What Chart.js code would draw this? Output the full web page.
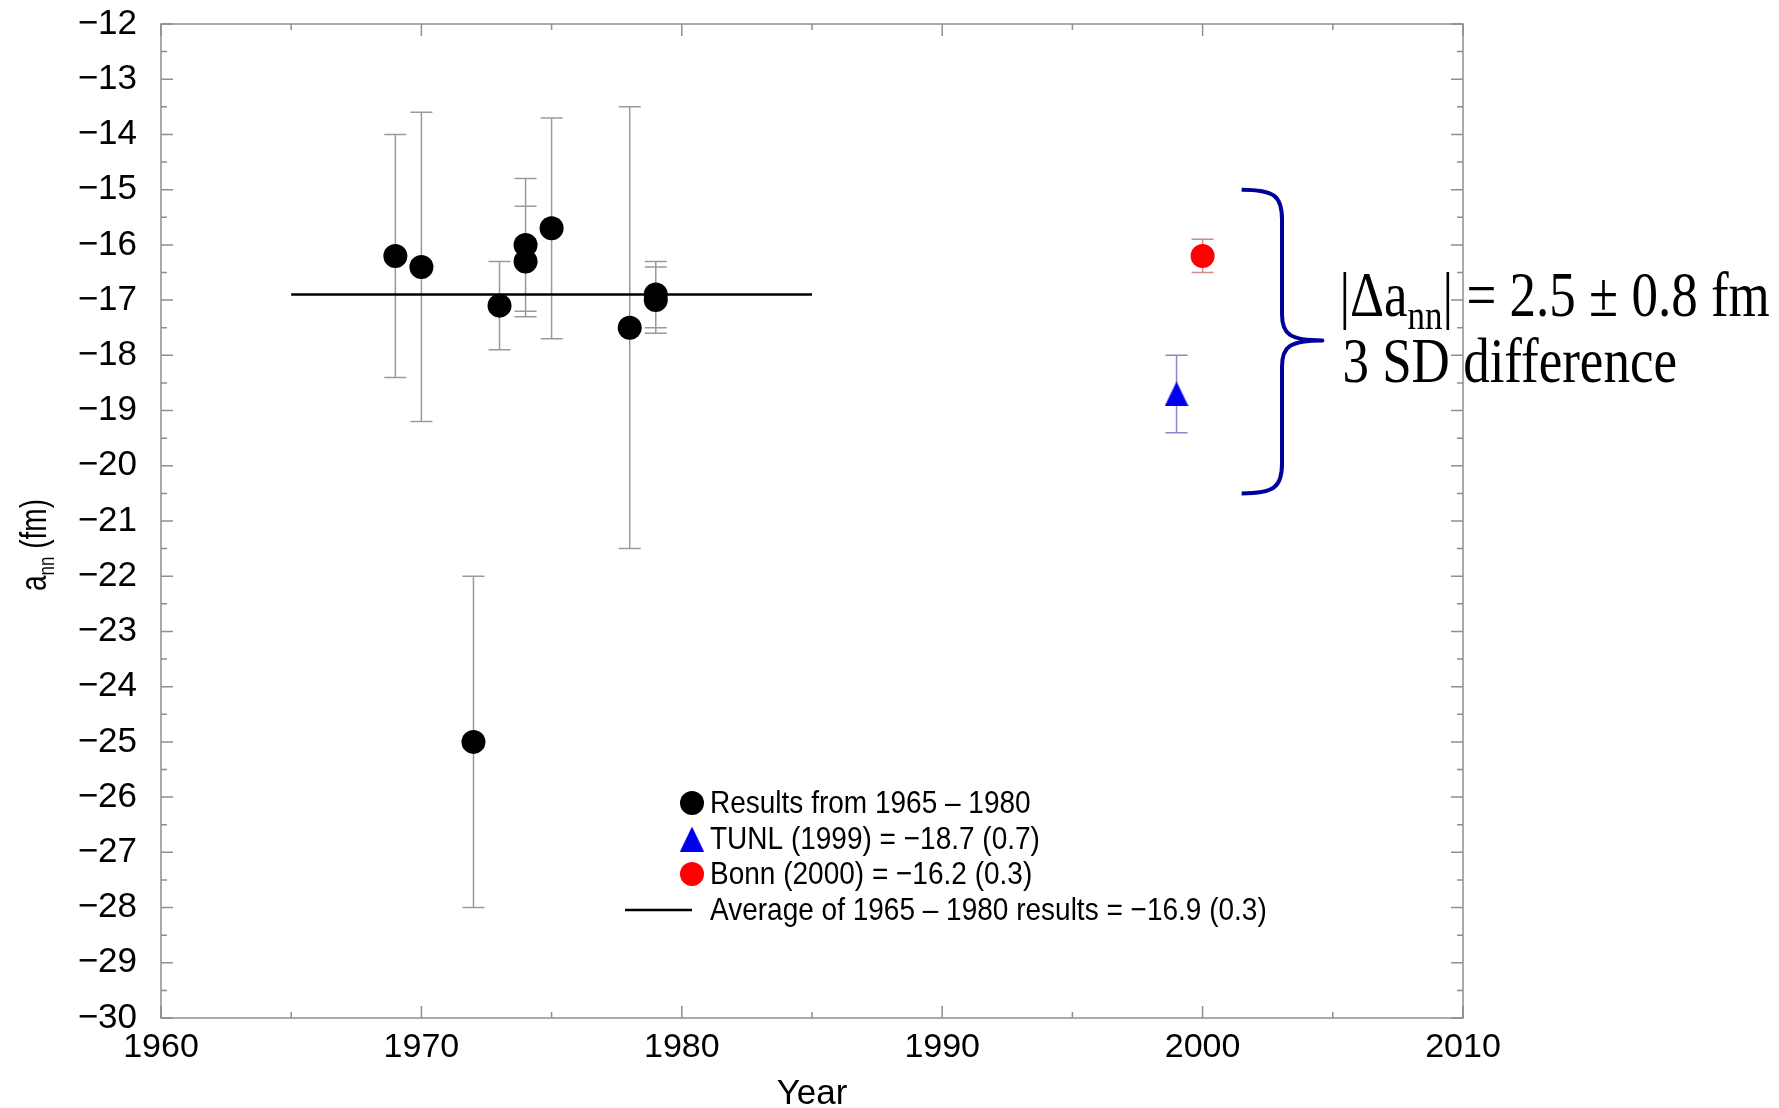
<!DOCTYPE html>
<html>
<head>
<meta charset="utf-8">
<script src="https://cdn.jsdelivr.net/npm/chart.js@4.4.1/dist/chart.umd.min.js"></script>
<style>
html,body{margin:0;padding:0;background:#fff;}
#wrap{width:1779px;height:1108px;position:relative;}
</style>
</head>
<body>
<div id="wrap"><canvas id="c" width="1779" height="1108"></canvas></div>
<script>
// ---- data ----
const oldYears  = [1969, 1970, 1972, 1973, 1974, 1974, 1975, 1978, 1979, 1979];
const oldValues = [-16.2, -16.4, -25.0, -17.1, -16.0, -16.3, -15.7, -17.5, -16.9, -17.0];
const oldErrors = [2.2, 2.8, 3.0, 0.8, 1.2, 1.0, 2.0, 4.0, 0.6, 0.6];
const tunlYears  = [1999];
const tunlValues = [-18.7];
const tunlErrors = [0.7];
const bonnYears  = [2000];
const bonnValues = [-16.2];
const bonnErrors = [0.3];
const avgYears  = [1965, 1985];
const avgValues = [-16.9, -16.9];
const legendLabels = [
  'Results from 1965 \u2013 1980',
  'TUNL (1999) = \u221218.7 (0.7)',
  'Bonn (2000) = \u221216.2 (0.3)',
  'Average of 1965 \u2013 1980 results = \u221216.9 (0.3)'
];
const xRange = [1960, 2010];
const yRange = [-30, -12];
const xTitle = 'Year';
const yTitleParts = ['a', 'nn', ' (fm)'];
// brace annotation, in data units
const braceYears  = [2001.5, 2003.05, 2004.6];
const braceValues = [-15.0, -17.73, -20.5];
const noteLine1 = ['|\u0394a', 'nn', '| = 2.5 \u00b1 0.8 fm'];
const noteLine2 = '3 SD difference';

// ---- fonts: prefer a narrow Helvetica-like face if installed ----
const probe = document.createElement('canvas').getContext('2d');
probe.font = '40px monospace';
const wMono = probe.measureText('Results 1960').width;
probe.font = '40px "Liberation Sans Narrow", monospace';
const wNarrow = probe.measureText('Results 1960').width;
const NARROW = Math.abs(wMono - wNarrow) > 1;
const SANS = NARROW ? "'Liberation Sans Narrow', 'Liberation Sans', Arial, sans-serif"
                    : "'Liberation Sans', Arial, Helvetica, sans-serif";
const SERIF = "'Liberation Serif', 'Times New Roman', serif";
const TICK_SIZE = NARROW ? 40 : 34;
const YTICK_SIZE = NARROW ? 41 : 35;
const TITLE_SIZE = NARROW ? 41 : 35;
const LEGEND_SIZE = NARROW ? 34 : 28;
const YT_BIG = NARROW ? 34 : 28, YT_SMALL = NARROW ? 21 : 17;
const TEXT_STRETCH = NARROW ? 1.0 : 1.15;
const YT_STRETCH = NARROW ? 1.2 : 1.3;

const toXY = (xs, ys) => xs.map((v, i) => ({x: v, y: ys[i]}));

// triangle marker (slightly taller than wide, as in the original)
function makeTriangle(w, h, color) {
  const c = document.createElement('canvas');
  c.width = w; c.height = h;
  const g = c.getContext('2d');
  g.fillStyle = color;
  g.beginPath();
  g.moveTo(w / 2, 0); g.lineTo(w, h); g.lineTo(0, h);
  g.closePath(); g.fill();
  return c;
}
const triImg = makeTriangle(24, 25, '#0000ee');

const decorPlugin = {
  id: 'decor',
  beforeDatasetsDraw(chart) {
    const {ctx, chartArea: a, scales: {x, y}} = chart;
    ctx.save();
    ctx.strokeStyle = '#8f8f8f';
    ctx.lineWidth = 1.5;
    ctx.strokeRect(a.left, a.top, a.right - a.left, a.bottom - a.top);
    ctx.beginPath();
    for (let v = yRange[0]; v <= yRange[1] + 1e-9; v += 0.5) {
      const py = y.getPixelForValue(v);
      const len = Math.abs(v - Math.round(v)) < 1e-6 ? 12 : 6;
      ctx.moveTo(a.left, py); ctx.lineTo(a.left + len, py);
      ctx.moveTo(a.right, py); ctx.lineTo(a.right - len, py);
    }
    for (let v = xRange[0]; v <= xRange[1] + 1e-9; v += 5) {
      const px = x.getPixelForValue(v);
      const len = v % 10 === 0 ? 12 : 6;
      ctx.moveTo(px, a.bottom); ctx.lineTo(px, a.bottom - len);
      ctx.moveTo(px, a.top); ctx.lineTo(px, a.top + len);
    }
    ctx.stroke();
    ctx.restore();

    const drawErr = (xs, vs, es, color) => {
      ctx.save();
      ctx.strokeStyle = color;
      ctx.lineWidth = 1.5;
      ctx.beginPath();
      xs.forEach((yr, i) => {
        const px = x.getPixelForValue(yr);
        const top = y.getPixelForValue(vs[i] + es[i]);
        const bot = y.getPixelForValue(vs[i] - es[i]);
        ctx.moveTo(px, top); ctx.lineTo(px, bot);
        ctx.moveTo(px - 11, top); ctx.lineTo(px + 11, top);
        ctx.moveTo(px - 11, bot); ctx.lineTo(px + 11, bot);
      });
      ctx.stroke();
      ctx.restore();
    };
    drawErr(oldYears, oldValues, oldErrors, '#9a9a9a');
    drawErr(tunlYears, tunlValues, tunlErrors, '#8a8ac4');
    drawErr(bonnYears, bonnValues, bonnErrors, '#d08a8a');
  },
  afterDraw(chart) {
    const {ctx, chartArea: a, scales: {x, y}} = chart;

    // y axis title with subscript
    ctx.save();
    ctx.translate(46, 545);
    ctx.rotate(-Math.PI / 2);
    ctx.scale(1, YT_STRETCH);
    ctx.fillStyle = '#000';
    ctx.textBaseline = 'alphabetic';
    ctx.textAlign = 'left';
    const f1 = YT_BIG + 'px ' + SANS, f2 = YT_SMALL + 'px ' + SANS;
    ctx.font = f1; const w0 = ctx.measureText(yTitleParts[0]).width;
    ctx.font = f2; const w1 = ctx.measureText(yTitleParts[1]).width;
    ctx.font = f1; const w2 = ctx.measureText(yTitleParts[2]).width;
    let sx = -(w0 + w1 + w2) / 2;
    ctx.font = f1; ctx.fillText(yTitleParts[0], sx, 0); sx += w0;
    ctx.font = f2; ctx.fillText(yTitleParts[1], sx, 6); sx += w1;
    ctx.font = f1; ctx.fillText(yTitleParts[2], sx, 0);
    ctx.restore();

    // legend
    const lx = a.left + 531;
    const rows = [a.top + 779, a.top + 815, a.top + 850, a.top + 886];
    ctx.save();
    ctx.fillStyle = '#000';
    ctx.beginPath(); ctx.arc(lx, rows[0], 12, 0, Math.PI * 2); ctx.fill();
    ctx.drawImage(triImg, lx - triImg.width / 2, rows[1] - triImg.height / 2);
    ctx.fillStyle = '#ff0000';
    ctx.beginPath(); ctx.arc(lx, rows[2], 12, 0, Math.PI * 2); ctx.fill();
    ctx.strokeStyle = '#000'; ctx.lineWidth = 2.5;
    ctx.beginPath(); ctx.moveTo(lx - 67, rows[3]); ctx.lineTo(lx, rows[3]); ctx.stroke();
    ctx.fillStyle = '#000';
    ctx.font = LEGEND_SIZE + 'px ' + SANS;
    ctx.textBaseline = 'middle';
    ctx.textAlign = 'left';
    legendLabels.forEach((t, i) => {
      ctx.save();
      ctx.translate(lx + 18, rows[i] + 1);
      ctx.scale(1, TEXT_STRETCH);
      ctx.fillText(t, 0, 0);
      ctx.restore();
    });
    ctx.restore();

    // brace
    const L = x.getPixelForValue(braceYears[0]);
    const V = x.getPixelForValue(braceYears[1]);
    const R = x.getPixelForValue(braceYears[2]);
    const T = y.getPixelForValue(braceValues[0]);
    const M = y.getPixelForValue(braceValues[1]);
    const B = y.getPixelForValue(braceValues[2]);
    ctx.save();
    ctx.strokeStyle = '#00009a';
    ctx.lineWidth = 4;
    ctx.lineJoin = 'round';
    ctx.beginPath();
    ctx.moveTo(L, T);
    ctx.bezierCurveTo(L + 0.8 * (V - L), T, V, T + 6, V, T + 30);
    ctx.lineTo(V, M - 26);
    ctx.bezierCurveTo(V, M - 6, V + 8, M, R, M);
    ctx.bezierCurveTo(V + 8, M, V, M + 6, V, M + 26);
    ctx.lineTo(V, B - 30);
    ctx.bezierCurveTo(V, B - 6, L + 0.8 * (V - L), B, L, B);
    ctx.stroke();
    ctx.restore();

    // annotation text
    const big = '53px ' + SERIF, small = '35px ' + SERIF;
    const tx = R + 17;
    ctx.save();
    ctx.fillStyle = '#000';
    ctx.textBaseline = 'alphabetic';
    ctx.textAlign = 'left';
    ctx.translate(tx, M - 24);
    ctx.scale(1, 1.18);
    let cx = 0;
    ctx.font = big; ctx.fillText(noteLine1[0], cx, 0); cx += ctx.measureText(noteLine1[0]).width;
    ctx.font = small; ctx.fillText(noteLine1[1], cx, 11); cx += ctx.measureText(noteLine1[1]).width;
    ctx.font = big; ctx.fillText(noteLine1[2], cx, 0);
    ctx.restore();
    ctx.save();
    ctx.fillStyle = '#000';
    ctx.textBaseline = 'alphabetic';
    ctx.textAlign = 'left';
    ctx.translate(tx + 3, M + 42);
    ctx.scale(1, 1.18);
    ctx.font = big;
    ctx.fillText(noteLine2, 0, 0);
    ctx.restore();
  }
};

new Chart(document.getElementById('c'), {
  type: 'scatter',
  data: {
    datasets: [
      {
        label: legendLabels[3],
        data: toXY(avgYears, avgValues),
        showLine: true,
        borderColor: '#000',
        borderWidth: 2.5,
        pointRadius: 0,
        order: 5
      },
      {
        label: legendLabels[0],
        data: toXY(oldYears, oldValues),
        backgroundColor: '#000',
        borderWidth: 0,
        pointRadius: 12,
        pointStyle: 'circle',
        order: 1
      },
      {
        label: legendLabels[1],
        data: toXY(tunlYears, tunlValues),
        backgroundColor: '#0000ee',
        borderWidth: 0,
        pointRadius: 13,
        pointStyle: triImg,
        order: 2
      },
      {
        label: legendLabels[2],
        data: toXY(bonnYears, bonnValues),
        backgroundColor: '#ff0000',
        borderWidth: 0,
        pointRadius: 12,
        pointStyle: 'circle',
        order: 3
      }
    ]
  },
  options: {
    responsive: false,
    animation: false,
    devicePixelRatio: 1,
    layout: {padding: {left: 0, top: 24, right: 316, bottom: 0}, autoPadding: false},
    plugins: {legend: {display: false}, tooltip: {enabled: false}},
    scales: {
      x: {
        type: 'linear',
        min: xRange[0], max: xRange[1],
        ticks: {stepSize: 10, color: '#000', font: {family: SANS, size: TICK_SIZE, lineHeight: 1.0}, padding: 13,
                maxRotation: 0, autoSkip: false, callback: v => String(v)},
        grid: {display: false, drawTicks: false},
        border: {display: false},
        title: {display: true, text: xTitle, color: '#000', font: {family: SANS, size: TITLE_SIZE, lineHeight: 0.76}, padding: 0},
        afterFit(s) { s.height = 90; s.paddingLeft = 0; s.paddingRight = 0; }
      },
      y: {
        type: 'linear',
        min: yRange[0], max: yRange[1],
        ticks: {stepSize: 1, color: '#000', font: {family: SANS, size: YTICK_SIZE, lineHeight: 1.0}, padding: 24, autoSkip: false,
                callback: v => (v < 0 ? '\u2212' : '') + Math.abs(v)},
        grid: {display: false, drawTicks: false},
        border: {display: false},
        afterFit(s) { s.width = 161; s.paddingTop = 0; s.paddingBottom = 0; }
      }
    }
  },
  plugins: [decorPlugin]
});
</script>
</body>
</html>
